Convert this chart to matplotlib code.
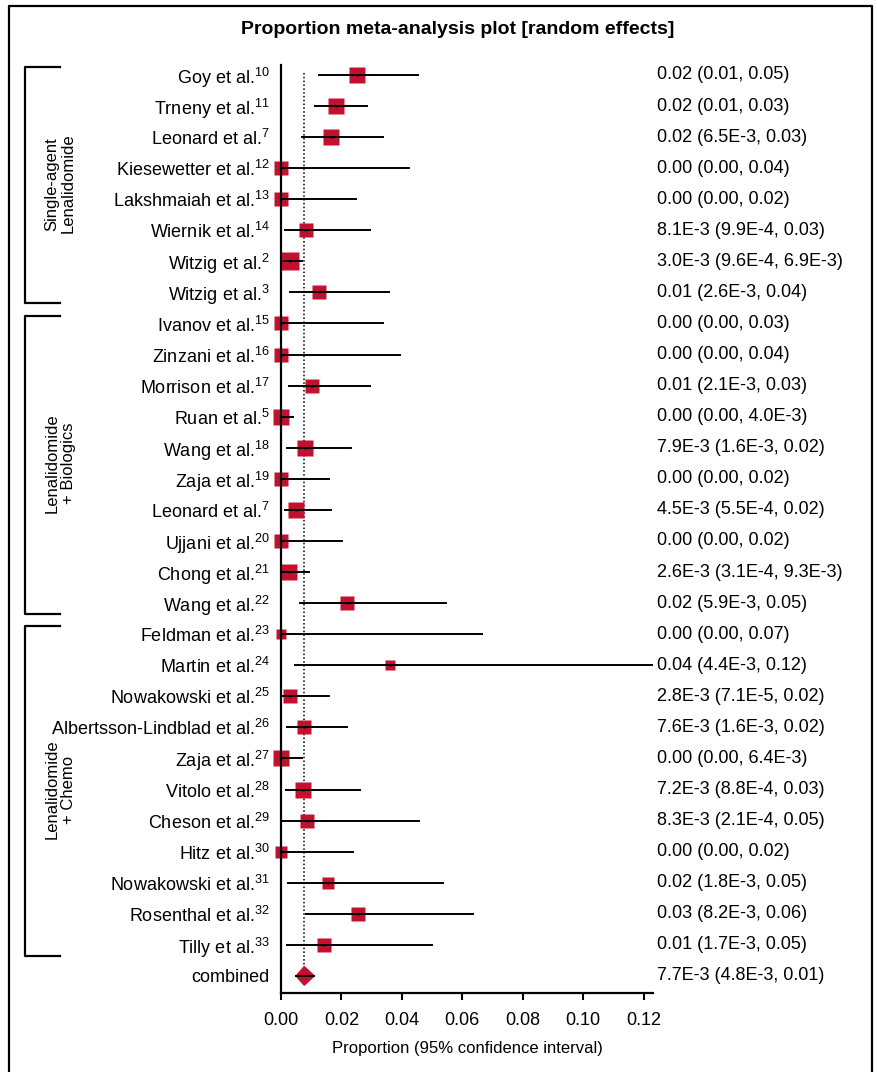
import matplotlib
matplotlib.use("Agg")
import matplotlib.pyplot as plt
import matplotlib.transforms as mtransforms
from matplotlib.lines import Line2D
from matplotlib.patches import Polygon

plt.rcParams['font.family'] = ['Liberation Sans', 'DejaVu Sans']
plt.rcParams['mathtext.fontset'] = 'custom'
plt.rcParams['mathtext.rm'] = 'Liberation Sans'
plt.rcParams['mathtext.it'] = 'Liberation Sans:italic'
plt.rcParams['mathtext.bf'] = 'Liberation Sans:bold'

# study data
studies = ["Goy et al.$^{10}$", "Trneny et al.$^{11}$", "Leonard et al.$^{7}$",
           "Kiesewetter et al.$^{12}$", "Lakshmaiah et al.$^{13}$", "Wiernik et al.$^{14}$",
           "Witzig et al.$^{2}$", "Witzig et al.$^{3}$",
           "Ivanov et al.$^{15}$", "Zinzani et al.$^{16}$", "Morrison et al.$^{17}$",
           "Ruan et al.$^{5}$", "Wang et al.$^{18}$", "Zaja et al.$^{19}$",
           "Leonard et al.$^{7}$", "Ujjani et al.$^{20}$", "Chong et al.$^{21}$",
           "Wang et al.$^{22}$",
           "Feldman et al.$^{23}$", "Martin et al.$^{24}$", "Nowakowski et al.$^{25}$",
           "Albertsson-Lindblad et al.$^{26}$", "Zaja et al.$^{27}$", "Vitolo et al.$^{28}$",
           "Cheson et al.$^{29}$", "Hitz et al.$^{30}$", "Nowakowski et al.$^{31}$",
           "Rosenthal et al.$^{32}$", "Tilly et al.$^{33}$"]
est = [0.0252, 0.0182, 0.0166, 0.0, 0.0, 0.0083, 0.0030, 0.0126,
       0.0, 0.0, 0.0103, 0.0, 0.0081, 0.0, 0.0048, 0.0, 0.0026, 0.0218,
       0.0, 0.036, 0.0029, 0.0076, 0.0, 0.0074, 0.0087, 0.0, 0.0154, 0.0255, 0.0143]
lower = [0.0126, 0.0113, 0.0069, 0.0, 0.0, 0.0012, 0.00096, 0.0030,
         0.0, 0.0, 0.0025, 0.0, 0.0019, 0.0, 0.0013, 0.0, 0.00031, 0.0063,
         0.0, 0.0046, 0.00007, 0.0019, 0.0, 0.0016, 0.0002, 0.0, 0.0022, 0.0083, 0.0020]
upper = [0.0454, 0.0284, 0.0336, 0.0422, 0.0248, 0.0293, 0.0069, 0.0357,
         0.0339, 0.0394, 0.0294, 0.0040, 0.0231, 0.0160, 0.0167, 0.0202, 0.0093, 0.0547,
         0.0666, 0.125, 0.0159, 0.0220, 0.0069, 0.0263, 0.0457, 0.0238, 0.0536, 0.0637, 0.0500]
weights = [16, 15, 16, 13, 13, 13, 17, 13, 13, 13, 14, 15, 15, 13, 16, 13, 15, 13,
           9, 10, 14, 14, 15, 15, 13, 12, 12, 13, 13]
ci_text = ["0.02 (0.01, 0.05)", "0.02 (0.01, 0.03)", "0.02 (6.5E-3, 0.03)",
           "0.00 (0.00, 0.04)", "0.00 (0.00, 0.02)", "8.1E-3 (9.9E-4, 0.03)",
           "3.0E-3 (9.6E-4, 6.9E-3)", "0.01 (2.6E-3, 0.04)",
           "0.00 (0.00, 0.03)", "0.00 (0.00, 0.04)", "0.01 (2.1E-3, 0.03)",
           "0.00 (0.00, 4.0E-3)", "7.9E-3 (1.6E-3, 0.02)", "0.00 (0.00, 0.02)",
           "4.5E-3 (5.5E-4, 0.02)", "0.00 (0.00, 0.02)", "2.6E-3 (3.1E-4, 9.3E-3)",
           "0.02 (5.9E-3, 0.05)",
           "0.00 (0.00, 0.07)", "0.04 (4.4E-3, 0.12)", "2.8E-3 (7.1E-5, 0.02)",
           "7.6E-3 (1.6E-3, 0.02)", "0.00 (0.00, 6.4E-3)", "7.2E-3 (8.8E-4, 0.03)",
           "8.3E-3 (2.1E-4, 0.05)", "0.00 (0.00, 0.02)", "0.02 (1.8E-3, 0.05)",
           "0.03 (8.2E-3, 0.06)", "0.01 (1.7E-3, 0.05)"]

combined_est = 0.0077
combined_lo = 0.0050
combined_hi = 0.0110
combined_text = "7.7E-3 (4.8E-3, 0.01)"

groups = ["Single-agent\nLenalidomide", "Lenalidomide\n+ Biologics", "Lenalidomide\n+ Chemo"]
group_rows = [(0, 7), (8, 17), (18, 28)]

red = '#C4102F'
W, H = 877, 1072
fig = plt.figure(figsize=(W / 100, H / 100), dpi=100)
ax = fig.add_axes([281 / W, 79 / H, 372 / W, 928 / H])

n = len(studies)
rows = list(range(n))
for i in rows:
    ax.plot(est[i], i, marker='s', ms=weights[i] * 0.76, color=red, mec='none', zorder=2,
            clip_on=False)
    ax.plot([lower[i], upper[i]], [i, i], color='black', lw=1.4, zorder=3)
    ax.plot(est[i], i, marker='s', ms=1.6, color='black', mec='none', zorder=4,
            clip_on=False)

# combined estimate
ax.add_patch(Polygon([(combined_lo, n), (combined_est, n - 0.3), (combined_hi, n),
                      (combined_est, n + 0.3)], closed=True, color=red, zorder=2,
                     clip_on=False))
ax.plot([combined_lo, combined_hi], [n, n], color='black', lw=1.4, zorder=3)
ax.plot([combined_est, combined_est], [-0.05, n], color='black', lw=1.1, ls=(0, (1, 1.5)),
        zorder=1)

ax.set_xlim(0, 0.1231)
ax.set_ylim(n + 0.55, -0.32)
ax.set_xticks([0, 0.02, 0.04, 0.06, 0.08, 0.10, 0.12])
ax.set_xticklabels(['0.00', '0.02', '0.04', '0.06', '0.08', '0.10', '0.12'], fontsize=13)
ax.set_yticks(rows + [n])
ax.set_yticklabels(studies + ['combined'], fontsize=13)
ax.tick_params(axis='y', length=0, pad=8)
ax.tick_params(axis='x', length=5, width=1.5, pad=9)
for s in ['top', 'right']:
    ax.spines[s].set_visible(False)
for s in ['left', 'bottom']:
    ax.spines[s].set_linewidth(1.6)

# right-hand estimate column
tr_right = mtransforms.blended_transform_factory(fig.transFigure, ax.transData)
for i in rows:
    ax.text(657 / W, i, ci_text[i], transform=tr_right, fontsize=13, va='center', ha='left')
ax.text(657 / W, n, combined_text, transform=tr_right, fontsize=13, va='center', ha='left')

# group brackets and labels
for label, (a, b) in zip(groups, group_rows):
    top, bot = a - 0.25, b + 0.35
    xs = [60 / W, 25 / W, 25 / W, 60 / W]
    ax.add_line(Line2D(xs, [top, top, bot, bot], transform=tr_right, color='black',
                       lw=1.6, clip_on=False))
    ax.text(60 / W, (a + b) / 2, label, transform=tr_right, rotation=90, fontsize=12,
            ha='center', va='center', multialignment='center', linespacing=1.1)

fig.text(458 / W, 1 - 30 / H, "Proportion meta-analysis plot [random effects]",
         fontsize=14, fontweight='bold', ha='center', va='center',
         family=['Liberation Sans Narrow', 'Liberation Sans'])
fig.text(467 / W, 1 - 1048 / H, "Proportion (95% confidence interval)", fontsize=12,
         ha='center', va='center', family=['Liberation Sans Narrow', 'Liberation Sans'])

# outer frame
fig.add_artist(Line2D([9 / W, 9 / W, 872 / W, 872 / W], [0, 1 - 6 / H, 1 - 6 / H, 0],
                      transform=fig.transFigure, color='black', lw=1.6))

fig.savefig("out.png", dpi=100)
